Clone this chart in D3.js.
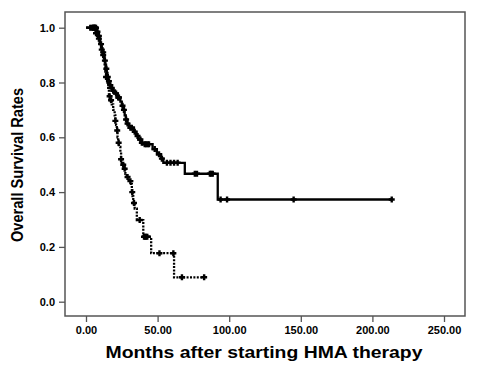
<!DOCTYPE html>
<html>
<head>
<meta charset="utf-8">
<script src="https://cdn.jsdelivr.net/npm/d3@7"></script>
<style>
  body { margin: 0; background: #fff; }
  text { font-family: "Liberation Sans", Arial, sans-serif; font-weight: bold; fill: #000; }
</style>
</head>
<body>
<svg id="chart" width="483" height="370"></svg>
<script>
// Kaplan-Meier step data
var solidTimes = [0, 7.5, 8.5, 9.5, 10, 11, 11.5, 12.5, 13, 13.5, 14, 14.5, 15, 15.5, 16.5, 17.5, 18.5, 20, 22, 24, 25, 26, 27, 27.8, 28.5, 30, 33.5, 35, 36.5, 38.5, 40, 46.5, 49.5, 52.5, 54, 69, 92];
var solidSurv = [1.0, 0.985, 0.97, 0.955, 0.94, 0.925, 0.91, 0.895, 0.88, 0.865, 0.85, 0.835, 0.82, 0.805, 0.79, 0.78, 0.77, 0.76, 0.745, 0.73, 0.715, 0.70, 0.68, 0.665, 0.65, 0.635, 0.62, 0.605, 0.592, 0.58, 0.575, 0.557, 0.538, 0.522, 0.507, 0.467, 0.373];
var solidCensor = [3, 4, 5, 5.5, 6, 6.5, 7, 8, 9, 10.5, 12, 13.2, 14.2, 15.2, 16, 17, 18, 19, 21, 22.5, 23, 25.5, 26.5, 28, 29, 31, 32, 34, 36, 38, 39, 41, 42, 43, 44, 48, 51, 53, 56.5, 59, 61.5, 64, 76, 77.5, 86.5, 87.5, 88.5, 94, 98.5, 145, 213.5];

var dottedTimes = [0, 7, 8.5, 9.5, 10.5, 11.5, 12.5, 13, 13.5, 14, 15, 15.5, 16, 17, 18, 19, 20, 20.5, 21, 21.5, 22, 22.5, 23, 24, 24.5, 25, 26.5, 27.5, 28.5, 30, 31.5, 32, 32.5, 33, 34, 35.5, 40, 45.5, 61.5];
var dottedSurv = [1.0, 0.98, 0.96, 0.94, 0.92, 0.90, 0.88, 0.86, 0.84, 0.82, 0.80, 0.775, 0.75, 0.735, 0.72, 0.70, 0.68, 0.66, 0.645, 0.625, 0.60, 0.58, 0.565, 0.545, 0.52, 0.50, 0.485, 0.467, 0.455, 0.44, 0.43, 0.40, 0.385, 0.36, 0.34, 0.298, 0.237, 0.177, 0.089];
var dottedCensor = [5, 6, 7, 9, 11, 12, 14, 16.5, 17.5, 20.5, 21.8, 22.8, 24.5, 26, 27, 29, 31, 32.3, 33.5, 37.5, 40.5, 41.2, 42, 42.8, 51.3, 61, 67, 82.5];

var xTicks = [0, 50, 100, 150, 200, 250];
var yTicks = [0, 0.2, 0.4, 0.6, 0.8, 1.0];

var svg = d3.select("#chart");
var frame = { left: 65, top: 12, right: 465, bottom: 316 };

var x = d3.scaleLinear().domain([0, 250]).range([86, 444]);
var y = d3.scaleLinear().domain([0, 1]).range([301.7, 27.7]);

// plot frame
svg.append("rect")
  .attr("x", frame.left).attr("y", frame.top)
  .attr("width", frame.right - frame.left).attr("height", frame.bottom - frame.top)
  .attr("fill", "none").attr("stroke", "#555").attr("stroke-width", 1.5);

// x axis
var xAxis = svg.append("g").attr("transform", "translate(0," + frame.bottom + ")")
  .call(d3.axisBottom(x).tickValues(xTicks).tickFormat(d3.format(".2f")).tickSize(6).tickPadding(4));
xAxis.select(".domain").remove();
xAxis.selectAll("line").attr("stroke", "#555").attr("stroke-width", 1.3);
xAxis.selectAll("text").style("font-size", "11px").style("font-family", "Liberation Sans, Arial, sans-serif").style("font-weight", "bold");

// y axis
var yAxis = svg.append("g").attr("transform", "translate(" + frame.left + ",0)")
  .call(d3.axisLeft(y).tickValues(yTicks).tickFormat(d3.format(".1f")).tickSize(6).tickPadding(4));
yAxis.select(".domain").remove();
yAxis.selectAll("line").attr("stroke", "#555").attr("stroke-width", 1.3);
yAxis.selectAll("text").style("font-size", "11px").style("font-family", "Liberation Sans, Arial, sans-serif").style("font-weight", "bold");

// titles
svg.append("text")
  .attr("x", 264).attr("y", 358)
  .attr("text-anchor", "middle")
  .attr("textLength", 317).attr("lengthAdjust", "spacingAndGlyphs")
  .style("font-size", "17px")
  .text("Months after starting HMA therapy");

svg.append("text")
  .attr("transform", "translate(23,165) rotate(-90)")
  .attr("text-anchor", "middle")
  .attr("textLength", 154).attr("lengthAdjust", "spacingAndGlyphs")
  .style("font-size", "16px")
  .style("font-family", "'Liberation Sans Narrow', 'Arial Narrow', 'Liberation Sans', sans-serif")
  .text("Overall Survival Rates");

function stepPoints(times, surv, end) {
  var pts = times.map(function (t, i) { return [t, surv[i]]; });
  pts.push([end, surv[surv.length - 1]]);
  return pts;
}

function survAt(times, surv, t) {
  var i = d3.bisectRight(times, t) - 1;
  return surv[Math.max(0, i)];
}

var line = d3.line()
  .x(function (d) { return x(d[0]); })
  .y(function (d) { return y(d[1]); })
  .curve(d3.curveStepAfter);

function drawGroup(times, surv, censor, dash) {
  var end = d3.max(censor);
  var g = svg.append("g");
  g.append("path")
    .datum(stepPoints(times, surv, end))
    .attr("d", line)
    .attr("fill", "none")
    .attr("stroke", "#000")
    .attr("stroke-width", 2.3)
    .attr("stroke-dasharray", dash);
  g.selectAll("path.cens").data(censor).enter().append("path")
    .attr("class", "cens")
    .attr("d", function (t) {
      var cx = x(t), cy = y(survAt(times, surv, t));
      return "M" + (cx - 3) + "," + cy + "H" + (cx + 3) + "M" + cx + "," + (cy - 3) + "V" + (cy + 3);
    })
    .attr("stroke", "#000")
    .attr("stroke-width", 2.4);
}

drawGroup(dottedTimes, dottedSurv, dottedCensor, "2,1.4");
drawGroup(solidTimes, solidSurv, solidCensor, null);
</script>
</body>
</html>
